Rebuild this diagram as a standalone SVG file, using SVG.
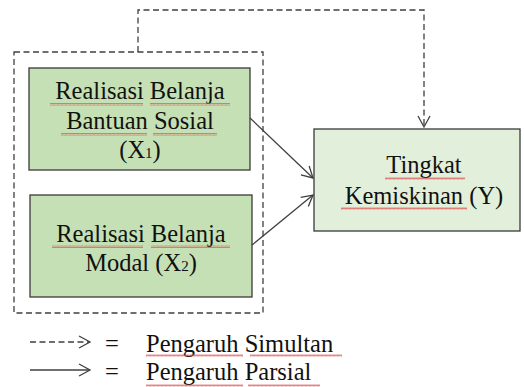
<svg xmlns="http://www.w3.org/2000/svg" width="524" height="387" viewBox="0 0 524 387">
<style>
.t{font-size:24.5px;fill:#111;text-anchor:middle}
.lg{font-size:24.5px;fill:#111}
.box{stroke:#3a3a3a;stroke-width:1.3}
.ln{stroke:#404040;stroke-width:1.3;fill:none}
.dash{stroke:#404040;stroke-width:1.3;fill:none;stroke-dasharray:6 3.5}
.sq{fill:url(#sq)}
</style>
<defs>
<pattern id="sq" width="4" height="3" patternUnits="userSpaceOnUse">
<path d="M0 2.5 L1 0.5 L2 2.5 L3 0.5 L4 2.5" stroke="#e05050" stroke-width="0.7" fill="none"/>
</pattern>
<marker id="ah" markerWidth="14" markerHeight="14" refX="12" refY="7" orient="auto" markerUnits="userSpaceOnUse">
<path d="M1 1 L12 7 L1 13" fill="none" stroke="#404040" stroke-width="1.3"/>
</marker>
</defs>
<g id="group-box">
<rect x="14" y="52" width="249" height="261" class="dash"/>
</g>
<g font-family="Liberation Serif, Tinos, DejaVu Serif, serif">
<g id="x1">
<rect x="29" y="68" width="221" height="102" fill="#c5e0b4" class="box"/>
<text class="t" x="140" y="99">Realisasi Belanja</text>
<text class="t" x="140" y="129">Bantuan Sosial</text>
<text class="t" x="140" y="158">(X<tspan font-size="15">1</tspan>)</text>
<rect class="sq" x="50" y="103" width="93" height="3"/>
<rect class="sq" x="150" y="103" width="80" height="3"/>
<rect class="sq" x="61" y="133" width="86" height="3"/>
<rect class="sq" x="153" y="133" width="64" height="3"/>
</g>
<g id="x2">
<rect x="30" y="195" width="222" height="102" fill="#c5e0b4" class="box"/>
<text class="t" x="141" y="242">Realisasi Belanja</text>
<text class="t" x="141" y="271">Modal (X<tspan font-size="15">2</tspan>)</text>
<rect class="sq" x="52" y="245" width="91" height="3"/>
<rect class="sq" x="151" y="245" width="79" height="3"/>
</g>
<g id="y">
<rect x="314" y="129" width="206" height="102" fill="#e2efda" class="box"/>
<text class="t" x="424" y="173">Tingkat</text>
<text class="t" x="424" y="204">Kemiskinan (Y)</text>
<rect class="sq" x="385" y="177" width="80" height="3"/>
<rect class="sq" x="341" y="207" width="126" height="3"/>
</g>
<g id="legend">
<line class="dash" x1="30" y1="342" x2="90" y2="342" stroke-dasharray="5 3" marker-end="url(#ah)"/>
<line class="ln" x1="30" y1="370" x2="90" y2="370" marker-end="url(#ah)"/>
<text class="lg" x="105" y="352">=</text>
<text class="lg" x="105" y="380">=</text>
<text class="lg" x="146" y="352">Pengaruh Simultan</text>
<text class="lg" x="146" y="380">Pengaruh Parsial</text>
<rect class="sq" x="146" y="354" width="97" height="3"/>
<rect class="sq" x="250" y="354" width="92" height="3"/>
<rect class="sq" x="146" y="384" width="97" height="3"/>
<rect class="sq" x="248" y="384" width="72" height="3"/>
</g>
</g>
<g id="connectors">
<path class="dash" d="M138 52 V10 H424 V127" marker-end="url(#ah)"/>
<line class="ln" x1="250" y1="118" x2="313" y2="178" marker-end="url(#ah)"/>
<line class="ln" x1="252" y1="245" x2="313" y2="195" marker-end="url(#ah)"/>
</g>
</svg>
